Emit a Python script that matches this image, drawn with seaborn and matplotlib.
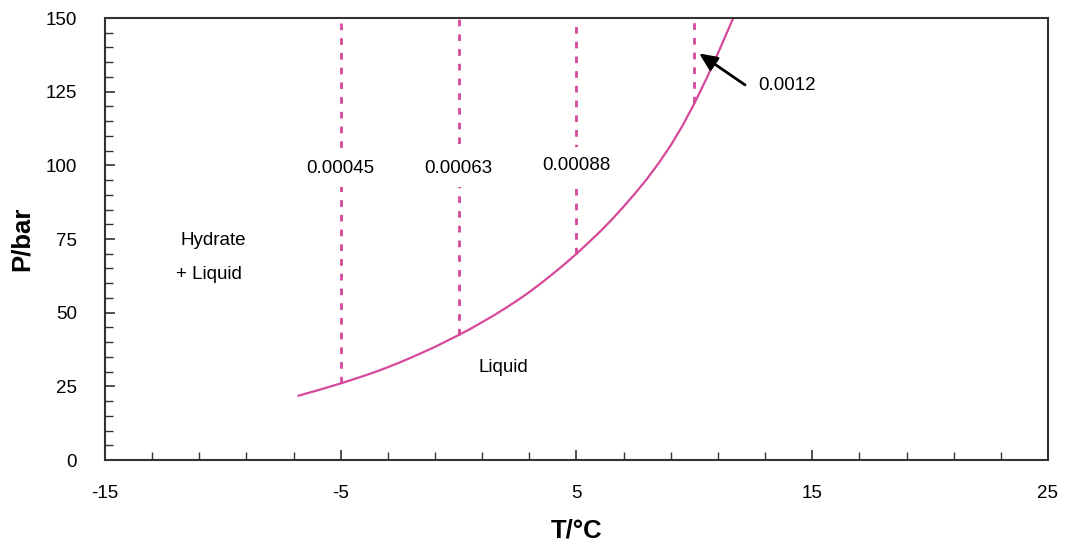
import matplotlib
matplotlib.use("Agg")
import matplotlib.pyplot as plt
import seaborn as sns
import pandas as pd
from matplotlib.ticker import FixedLocator, MultipleLocator

# ---- data ----
curve_T = [-6.8, -6.5, -6, -5.5, -5, -4.5, -4, -3.5, -3, -2.5, -2, -1.5, -1, -0.5, 0,
           0.5, 1, 1.5, 2, 2.5, 3, 3.5, 4, 4.5, 5, 5.5, 6, 6.5, 7, 7.5, 8, 8.5, 9,
           9.5, 10, 10.5, 11, 11.65]
curve_P = [21.8, 22.5, 23.6, 24.8, 26.0, 27.3, 28.6, 30.0, 31.5, 33.1, 34.8, 36.6,
           38.4, 40.4, 42.4, 44.5, 46.8, 49.1, 51.6, 54.2, 57.0, 60.0, 63.2, 66.5,
           70.0, 73.7, 77.5, 81.6, 86.0, 90.6, 95.5, 100.9, 106.8, 113.5, 121.0,
           129.2, 138.0, 150.0]

line_T = [-5, 0, 5, 10]
line_Pbottom = [26.0, 42.4, 70.0, 121.0]
line_labels = ["0.00045", "0.00063", "0.00088", "0.0012"]
label_P = [99, 99, 100, None]

region_labels = ["Hydrate", "+ Liquid", "Liquid"]
region_T = [-10.4, -10.6, 1.9]
region_P = [74.5, 63.0, 31.5]

x_ticks = [-15, -5, 5, 15, 25]
x_minor = [-13, -11, -9, -7, -3, -1, 1, 3, 7, 9, 11, 13, 17, 19, 21, 23]
y_ticks = [0, 25, 50, 75, 100, 125, 150]

color = "#D5489A"

sns.set_theme(style="white")
plt.rcParams["font.family"] = ["Liberation Sans", "DejaVu Sans"]
plt.rcParams["axes.unicode_minus"] = False

fig = plt.figure(figsize=(10.65, 5.46), dpi=100)
ax = fig.add_axes([0.0986, 0.1575, 0.8854, 0.8095])

df = pd.DataFrame({"T": curve_T, "P": curve_P})
sns.lineplot(data=df, x="T", y="P", ax=ax, color=color, linewidth=1.6, sort=False)

for t, pb in zip(line_T, line_Pbottom):
    ax.plot([t, t], [pb, 150], color=color, linewidth=2.0, linestyle=(0, (2.4, 2.9)),
            solid_capstyle="butt", dash_capstyle="butt")

for t, lab, pl in zip(line_T, line_labels, label_P):
    if pl is not None:
        ax.text(t, pl, lab, ha="center", va="center", fontsize=13.5, color="black",
                bbox=dict(facecolor="white", edgecolor="none", pad=7))

ax.annotate("", xy=(10.2, 138.0), xytext=(12.15, 127.3),
            arrowprops=dict(arrowstyle="-|>,head_length=0.9,head_width=0.4",
                            color="black", lw=2, shrinkA=0, shrinkB=0))
ax.text(12.7, 127.0, line_labels[3], fontsize=13.5, va="center", ha="left", color="black")

for lab, t, p in zip(region_labels, region_T, region_P):
    ax.text(t, p, lab, ha="center", va="center", fontsize=13.5, color="black")

ax.set_xlim(-15, 25)
ax.set_ylim(0, 150)
ax.set_xticks(x_ticks)
ax.set_yticks(y_ticks)
ax.xaxis.set_minor_locator(FixedLocator(x_minor))
ax.yaxis.set_minor_locator(MultipleLocator(5))
ax.tick_params(axis="both", which="major", direction="in", length=7.5, width=1.2,
               color="#333333", labelsize=13.5, labelcolor="black")
ax.tick_params(axis="x", which="major", pad=18)
ax.tick_params(axis="y", which="major", pad=20)
ax.tick_params(axis="both", which="minor", direction="in", length=5.5, width=1.0,
               color="#333333")
ax.tick_params(bottom=True, left=True, which="both")

for s in ax.spines.values():
    s.set_visible(True)
    s.set_color("#333333")
    s.set_linewidth(1.5)

ax.set_xlabel("T/°C", fontsize=18.5, fontweight="bold", labelpad=12, color="black")
ax.set_ylabel("P/bar", fontsize=18.5, fontweight="bold", labelpad=9, color="black")
ax.grid(False)

fig.savefig("out.png", dpi=100)
